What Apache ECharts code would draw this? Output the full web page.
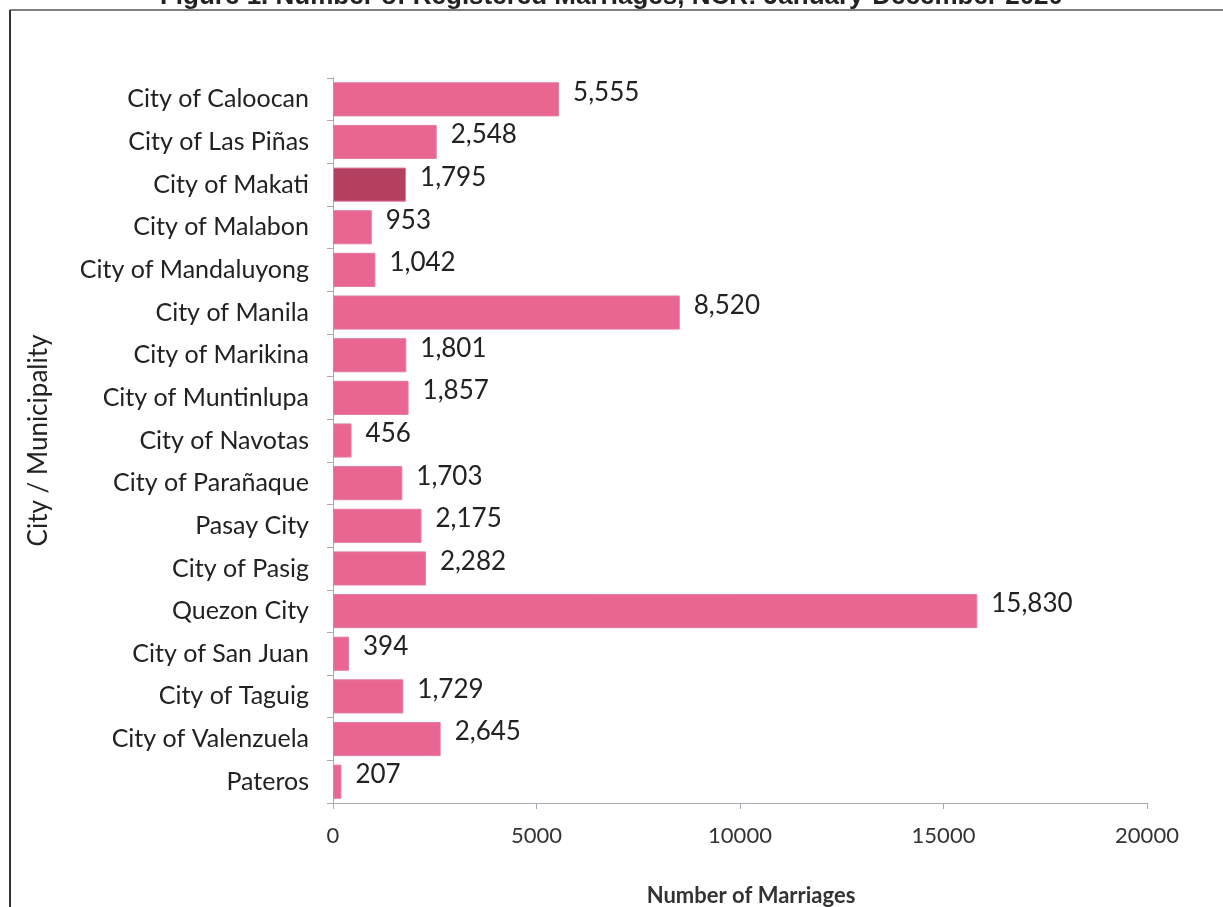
<!DOCTYPE html>
<html>
<head>
<meta charset="utf-8">
<script src="https://cdn.jsdelivr.net/npm/echarts@6/dist/echarts.min.js"></script>
<style>
  html, body { margin: 0; padding: 0; background: #fff; }
  #chart { width: 1223px; height: 907px; }
</style>
</head>
<body>
<div id="chart"></div>
<script>
// 城市名称与登记结婚数
var cities = [
  'City of Caloocan', 'City of Las Piñas', 'City of Makati', 'City of Malabon',
  'City of Mandaluyong', 'City of Manila', 'City of Marikina', 'City of Muntinlupa',
  'City of Navotas', 'City of Parañaque', 'Pasay City', 'City of Pasig',
  'Quezon City', 'City of San Juan', 'City of Taguig', 'City of Valenzuela', 'Pateros'
];
var marriages = [5555, 2548, 1795, 953, 1042, 8520, 1801, 1857, 456, 1703, 2175, 2282, 15830, 394, 1729, 2645, 207];
var xTicks = [0, 5000, 10000, 15000, 20000];

(function () {
  var mychart = echarts.init(document.getElementById('chart'));
  var font = 'Lato, "Open Sans", sans-serif';

  var option = {
    animation: false,
    backgroundColor: '#fff',
    title: {
      text: 'Figure 1. Number of Registered Marriages, NCR: January-December 2020',
      left: 'center',
      top: -21,
      textStyle: { fontFamily: '"Liberation Sans", Arial, sans-serif', fontWeight: 'bold', fontSize: 26, color: '#222' }
    },
    graphic: [
      // 外框
      { type: 'line', shape: { x1: 10, y1: 10, x2: 1223, y2: 10 }, style: { stroke: '#555', lineWidth: 1.5 } },
      { type: 'line', shape: { x1: 10, y1: 10, x2: 10, y2: 907 }, style: { stroke: '#333', lineWidth: 2 } }
    ],
    grid: { left: 333, right: 76, top: 78, bottom: 104, containLabel: false, outerBoundsMode: 'none' },
    xAxis: {
      type: 'value',
      min: xTicks[0],
      max: xTicks[xTicks.length - 1],
      interval: 5000,
      name: 'Number of Marriages',
      nameLocation: 'middle',
      nameGap: 82,
      nameTextStyle: { fontFamily: font, fontWeight: 'bold', fontSize: 22, color: '#333', padding: [0, 0, 0, 22] },
      axisLine: { show: true, lineStyle: { color: '#a9a9b3' } },
      axisTick: { show: true, length: 6, lineStyle: { color: '#a9a9b3' } },
      axisLabel: { fontFamily: font, fontSize: 22, color: '#333', margin: 22, formatter: function (v) { return String(v); } },
      splitLine: { show: false }
    },
    yAxis: {
      type: 'category',
      data: cities,
      inverse: true,
      name: 'City / Municipality',
      nameLocation: 'middle',
      nameGap: 281,
      nameRotate: 90,
      nameTextStyle: { fontFamily: font, fontSize: 26, color: '#222' },
      axisLine: { show: true, lineStyle: { color: '#a9a9b3' } },
      axisTick: { show: true, length: 6, inside: false, lineStyle: { color: '#a9a9b3' } },
      axisLabel: { fontFamily: font, fontSize: 25, color: '#222', margin: 24 }
    },
    series: [{
      type: 'bar',
      data: marriages.map(function (v, i) {
        return i === 2 ? { value: v, itemStyle: { color: '#b3405f' } } : v;
      }),
      barCategoryGap: '20%',
      itemStyle: { color: '#e8668f', borderColor: '#e27ca0', borderWidth: 1 },
      label: {
        show: true,
        position: 'right',
        distance: 14,
        fontFamily: font,
        fontSize: 26,
        color: '#222',
        offset: [0, -7],
        formatter: function (p) { return p.value.toLocaleString('en-US'); }
      }
    }]
  };
  mychart.setOption(option);
})();
</script>
</body>
</html>
